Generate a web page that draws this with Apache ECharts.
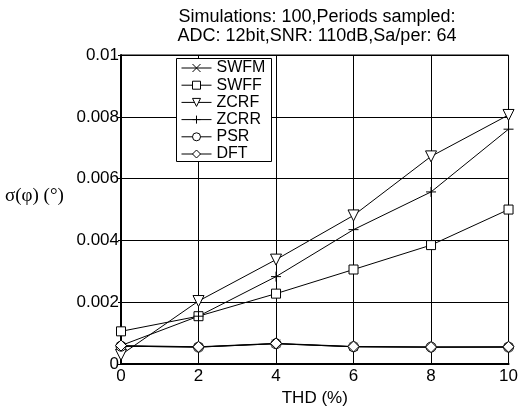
<!DOCTYPE html>
<html>
<head>
<meta charset="utf-8">
<script src="https://cdn.jsdelivr.net/npm/echarts@6/dist/echarts.min.js"></script>
<style>
  html, body { margin: 0; padding: 0; background: #fff; }
  #chart { width: 521px; height: 412px; }
</style>
</head>
<body>
<div id="chart"></div>
<script>
// THD values on x axis (%)
var thd = [0, 2, 4, 6, 8, 10];

// sigma(phi) per method
var swfm = [0.00058, 0.00055, 0.00066, 0.00056, 0.00055, 0.00055];
var swff = [0.00106, 0.00155, 0.00228, 0.00306, 0.00385, 0.00500];
var zcrf = [0.00030, 0.00204, 0.00338, 0.00481, 0.00672, 0.00806];
var zcrr = [0.00060, 0.00155, 0.00283, 0.00435, 0.00557, 0.00760];
var psr  = [0.00058, 0.00055, 0.00066, 0.00056, 0.00055, 0.00055];
var dft  = [0.00060, 0.00056, 0.00067, 0.00057, 0.00055, 0.00056];

var titleLines = ['Simulations: 100,Periods sampled:', 'ADC: 12bit,SNR: 110dB,Sa/per: 64'];
var legendNames = ['SWFM', 'SWFF', 'ZCRF', 'ZCRR', 'PSR', 'DFT'];

var myChart = echarts.init(document.getElementById('chart'));

function pairs(ys) {
    return thd.map(function(x, i) { return [x, ys[i]]; });
}

function mkSeries(name, ys, symbol, size, rotate) {
    return {
        name: name,
        type: 'line',
        data: pairs(ys),
        symbol: symbol,
        symbolSize: size,
        symbolRotate: rotate || 0,
        showAllSymbol: true,
        lineStyle: { color: '#000', width: 1 },
        itemStyle: { color: '#fff', borderColor: '#000', borderWidth: 1 },
        emphasis: { disabled: true },
        animation: false
    };
}

var font = 'Liberation Sans, Arial, sans-serif';

var option = {
    backgroundColor: '#fff',
    textStyle: { fontFamily: font },
    title: {
        text: titleLines.join('\n'),
        left: 312,
        textAlign: 'center',
        top: 3,
        textStyle: { fontSize: 18, fontWeight: 'normal', color: '#000', lineHeight: 19, fontFamily: font }
    },
    legend: {
        orient: 'vertical',
        left: 181,
        top: 60,
        padding: 0,
        itemGap: 1.2,
        itemWidth: 30,
        itemHeight: 10,
        textStyle: { fontSize: 16, color: '#000', fontFamily: font, lineHeight: 14.5 },
        itemStyle: { borderWidth: 1 },
        lineStyle: { width: 1 },
        data: legendNames
    },
    grid: {
        left: 121,
        right: 9,
        top: 55,
        bottom: 43,
        show: true,
        borderColor: '#000',
        borderWidth: 1
    },
    xAxis: {
        type: 'value',
        min: 0,
        max: 10,
        interval: 2,
        name: 'THD (%)',
        nameLocation: 'middle',
        nameGap: 25,
        nameTextStyle: { fontSize: 17, color: '#000' },
        axisLine: { lineStyle: { color: '#000', width: 2 } },
        axisTick: { show: false },
        axisLabel: { fontSize: 17, color: '#000', margin: 4 },
        splitLine: { lineStyle: { color: '#000', width: 1 } }
    },
    yAxis: {
        type: 'value',
        min: 0,
        max: 0.01,
        interval: 0.002,
        axisLine: { show: true, lineStyle: { color: '#000', width: 2 } },
        axisTick: { show: true, inside: false, length: 3, lineStyle: { color: '#000' } },
        axisLabel: { fontSize: 17, color: '#000', margin: 2 },
        splitLine: { lineStyle: { color: '#000', width: 1 } }
    },
    graphic: [{
        type: 'rect',
        left: 176,
        top: 58,
        z: 3,
        silent: true,
        shape: { width: 95, height: 103 },
        style: { fill: '#fff', stroke: '#000', lineWidth: 1 }
    }, {
        type: 'text',
        left: 5,
        top: 187,
        style: {
            text: 'σ(φ) (°)',
            fontSize: 19,
            fontFamily: 'Liberation Serif, Times New Roman, serif',
            fill: '#000'
        }
    }],
    series: [
        mkSeries('SWFM', swfm, 'path://M0,0L10,10M10,0L0,10', 8),
        mkSeries('SWFF', swff, 'rect', 9),
        mkSeries('ZCRF', zcrf, 'triangle', 11, 180),
        mkSeries('ZCRR', zcrr, 'path://M5,0L5,10M0,5L10,5', 10),
        mkSeries('PSR', psr, 'circle', 10),
        mkSeries('DFT', dft, 'diamond', 11)
    ]
};

myChart.setOption(option);
</script>
</body>
</html>
